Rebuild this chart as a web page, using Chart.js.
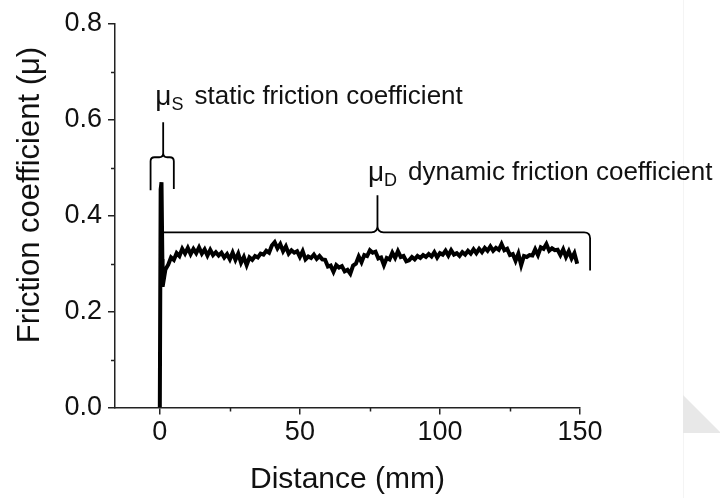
<!DOCTYPE html>
<html>
<head>
<meta charset="utf-8">
<script src="https://cdn.jsdelivr.net/npm/chart.js@4.4.1/dist/chart.umd.min.js"></script>
<style>
  html, body { margin: 0; padding: 0; background: #fff; }
  #wrap { width: 720px; height: 498px; }
</style>
</head>
<body>
<div id="wrap"><canvas id="friction-chart" width="720" height="498"></canvas></div>
<script>
// run-in at the very start of sliding (distance in mm)
const startDistance = [0, 0.3, 0.6, 0.9];
const startFriction = [0, 0.455, 0.47, 0.31];

// steady sliding, one reading per mm from 1 mm to 149 mm
const slideFriction = [
  0.252, 0.288, 0.298, 0.313, 0.308, 0.322, 0.316, 0.331, 0.321, 0.333,
  0.320, 0.331, 0.322, 0.334, 0.321, 0.330, 0.317, 0.329, 0.318, 0.324,
  0.317, 0.323, 0.313, 0.320, 0.309, 0.323, 0.308, 0.321, 0.302, 0.314,
  0.297, 0.313, 0.308, 0.316, 0.313, 0.321, 0.319, 0.327, 0.323, 0.338,
  0.345, 0.332, 0.341, 0.326, 0.336, 0.321, 0.328, 0.323, 0.326, 0.314,
  0.326, 0.309, 0.315, 0.312, 0.319, 0.310, 0.316, 0.309, 0.308, 0.294,
  0.296, 0.283, 0.297, 0.292, 0.295, 0.284, 0.287, 0.279, 0.296, 0.300,
  0.315, 0.303, 0.318, 0.316, 0.328, 0.323, 0.325, 0.311, 0.313, 0.297,
  0.312, 0.309, 0.323, 0.312, 0.326, 0.314, 0.316, 0.305, 0.307, 0.314,
  0.309, 0.316, 0.312, 0.318, 0.314, 0.320, 0.315, 0.324, 0.313, 0.322,
  0.319, 0.327, 0.317, 0.328, 0.319, 0.322, 0.316, 0.324, 0.319, 0.327,
  0.321, 0.330, 0.322, 0.331, 0.324, 0.333, 0.327, 0.336, 0.327, 0.333,
  0.329, 0.341, 0.328, 0.331, 0.318, 0.320, 0.306, 0.321, 0.297, 0.316,
  0.314, 0.318, 0.317, 0.330, 0.318, 0.334, 0.331, 0.341, 0.327, 0.332,
  0.328, 0.329, 0.318, 0.330, 0.314, 0.326, 0.311, 0.322, 0.300
];

const xTickValues = [0, 50, 100, 150];
const yTickValues = [0, 0.2, 0.4, 0.6, 0.8];
const xMinorTicks = [25, 75, 125];
const yMinorTicks = [0.1, 0.3, 0.5, 0.7];

// braces marking the static peak and the dynamic plateau (data units)
const staticBrace = { x1: -3.3, x2: 5.0, xm: 1.2, yBar: 0.522, yTip: 0.595, yEndL: 0.453, yEndR: 0.456, r: 4 };
const dynamicBrace = { x1: 1.4, x2: 153.6, xm: 77.7, yBar: 0.3655, yTip: 0.443, yEndL: 0.3655, yEndR: 0.286, r: 6 };

const FONT = "'Liberation Sans', Arial, sans-serif";
const INK = '#111';

const points = startDistance.map((x, i) => ({ x, y: startFriction[i] }))
  .concat(slideFriction.map((y, i) => ({ x: i + 1, y })));

function drawBrace(chart, b) {
  const { ctx, scales: { x, y } } = chart;
  const x1 = x.getPixelForValue(b.x1), x2 = x.getPixelForValue(b.x2), xm = x.getPixelForValue(b.xm);
  const yBar = y.getPixelForValue(b.yBar), yTip = y.getPixelForValue(b.yTip);
  const yL = y.getPixelForValue(b.yEndL), yR = y.getPixelForValue(b.yEndR);
  const r = b.r;
  ctx.beginPath();
  if (yL - yBar > r) {
    ctx.moveTo(x1, yL);
    ctx.lineTo(x1, yBar + r);
    ctx.quadraticCurveTo(x1, yBar, x1 + r, yBar);
  } else {
    ctx.moveTo(x1, yBar);
  }
  ctx.lineTo(xm - r, yBar);
  ctx.quadraticCurveTo(xm, yBar, xm, yBar - r);
  ctx.lineTo(xm, yTip);
  ctx.moveTo(xm, yBar - r);
  ctx.quadraticCurveTo(xm, yBar, xm + r, yBar);
  ctx.lineTo(x2 - r, yBar);
  ctx.quadraticCurveTo(x2, yBar, x2, yBar + r);
  ctx.lineTo(x2, yR);
  ctx.stroke();
}

function drawMu(chart, xv, yv, sub, text) {
  const { ctx, scales: { x, y } } = chart;
  let px = x.getPixelForValue(xv);
  const py = y.getPixelForValue(yv);
  ctx.textBaseline = 'alphabetic';
  ctx.textAlign = 'left';
  ctx.font = `28px ${FONT}`;
  ctx.fillText('μ', px, py);
  px += ctx.measureText('μ').width;
  ctx.font = `18px ${FONT}`;
  ctx.fillText(sub, px, py + 5);
  px += ctx.measureText(sub).width + 11;
  ctx.font = `26px ${FONT}`;
  ctx.fillText(text, px, py - 1);
}

const decorations = {
  id: 'decorations',
  beforeDraw(chart) {
    const { ctx, width, height } = chart;
    ctx.save();
    ctx.fillStyle = '#fff';
    ctx.fillRect(0, 0, width, height);
    // faint page edge in the lower right corner
    ctx.fillStyle = '#f4f4f4';
    ctx.fillRect(683, 0, 1, height);
    ctx.fillStyle = '#e8e8e8';
    ctx.beginPath();
    ctx.moveTo(683, 395);
    ctx.lineTo(720, 432);
    ctx.lineTo(720, 433);
    ctx.lineTo(683, 433);
    ctx.closePath();
    ctx.fill();
    ctx.restore();
  },
  afterDraw(chart) {
    const { ctx, chartArea, scales: { x, y } } = chart;
    ctx.save();
    // minor tick marks
    ctx.strokeStyle = '#222';
    ctx.lineWidth = 1.5;
    ctx.beginPath();
    yMinorTicks.forEach(v => {
      const py = Math.round(y.getPixelForValue(v)) + 0.5;
      ctx.moveTo(chartArea.left - 4, py);
      ctx.lineTo(chartArea.left, py);
    });
    xMinorTicks.forEach(v => {
      const px = Math.round(x.getPixelForValue(v)) + 0.5;
      ctx.moveTo(px, chartArea.bottom);
      ctx.lineTo(px, chartArea.bottom + 4);
    });
    ctx.stroke();

    // braces
    ctx.strokeStyle = '#000';
    ctx.lineWidth = 1.8;
    ctx.lineJoin = 'round';
    drawBrace(chart, staticBrace);
    drawBrace(chart, dynamicBrace);

    // annotations
    ctx.fillStyle = INK;
    drawMu(chart, -1.6, 0.631, 'S', 'static friction coefficient');
    drawMu(chart, 74.3, 0.473, 'D', 'dynamic friction coefficient');

    // y axis title
    ctx.translate(30, 195);
    ctx.rotate(-Math.PI / 2);
    ctx.font = `31px ${FONT}`;
    ctx.textAlign = 'center';
    ctx.textBaseline = 'middle';
    ctx.fillText('Friction coefficient (μ)', 0, 0);
    ctx.restore();
  }
};

new Chart(document.getElementById('friction-chart'), {
  type: 'line',
  data: {
    datasets: [
      {
        data: points,
        borderColor: '#000',
        borderWidth: 4,
        pointRadius: 0,
        tension: 0,
        fill: false,
      },
    ],
  },
  options: {
    responsive: false,
    animation: false,
    devicePixelRatio: 1,
    layout: { padding: { top: 24, right: 140, left: 0, bottom: 0 } },
    plugins: {
      legend: { display: false },
      tooltip: { enabled: false },
    },
    scales: {
      x: {
        type: 'linear',
        min: -16,
        max: 150,
        afterBuildTicks: (scale) => { scale.ticks = xTickValues.map(value => ({ value })); },
        afterFit: (scale) => { scale.height = 90.5; },
        grid: { drawOnChartArea: false, tickLength: 7, color: '#222', lineWidth: 1.5 },
        border: { display: true, color: '#222', width: 1.5 },
        ticks: { font: { family: FONT, size: 27 }, color: INK, padding: 2, maxRotation: 0, autoSkip: false },
        title: { display: true, text: 'Distance (mm)', color: INK, font: { family: FONT, size: 30 }, padding: { top: 0, bottom: 0 } },
      },
      y: {
        min: 0,
        max: 0.8,
        afterBuildTicks: (scale) => { scale.ticks = yTickValues.map(value => ({ value })); },
        afterFit: (scale) => { scale.width = 115; },
        grid: { drawOnChartArea: false, tickLength: 7, color: '#222', lineWidth: 1.5 },
        border: { display: true, color: '#222', width: 1.5 },
        ticks: { font: { family: FONT, size: 27 }, color: INK, padding: 6, callback: (v) => v.toFixed(1) },
      },
    },
  },
  plugins: [decorations],
});
</script>
</body>
</html>
